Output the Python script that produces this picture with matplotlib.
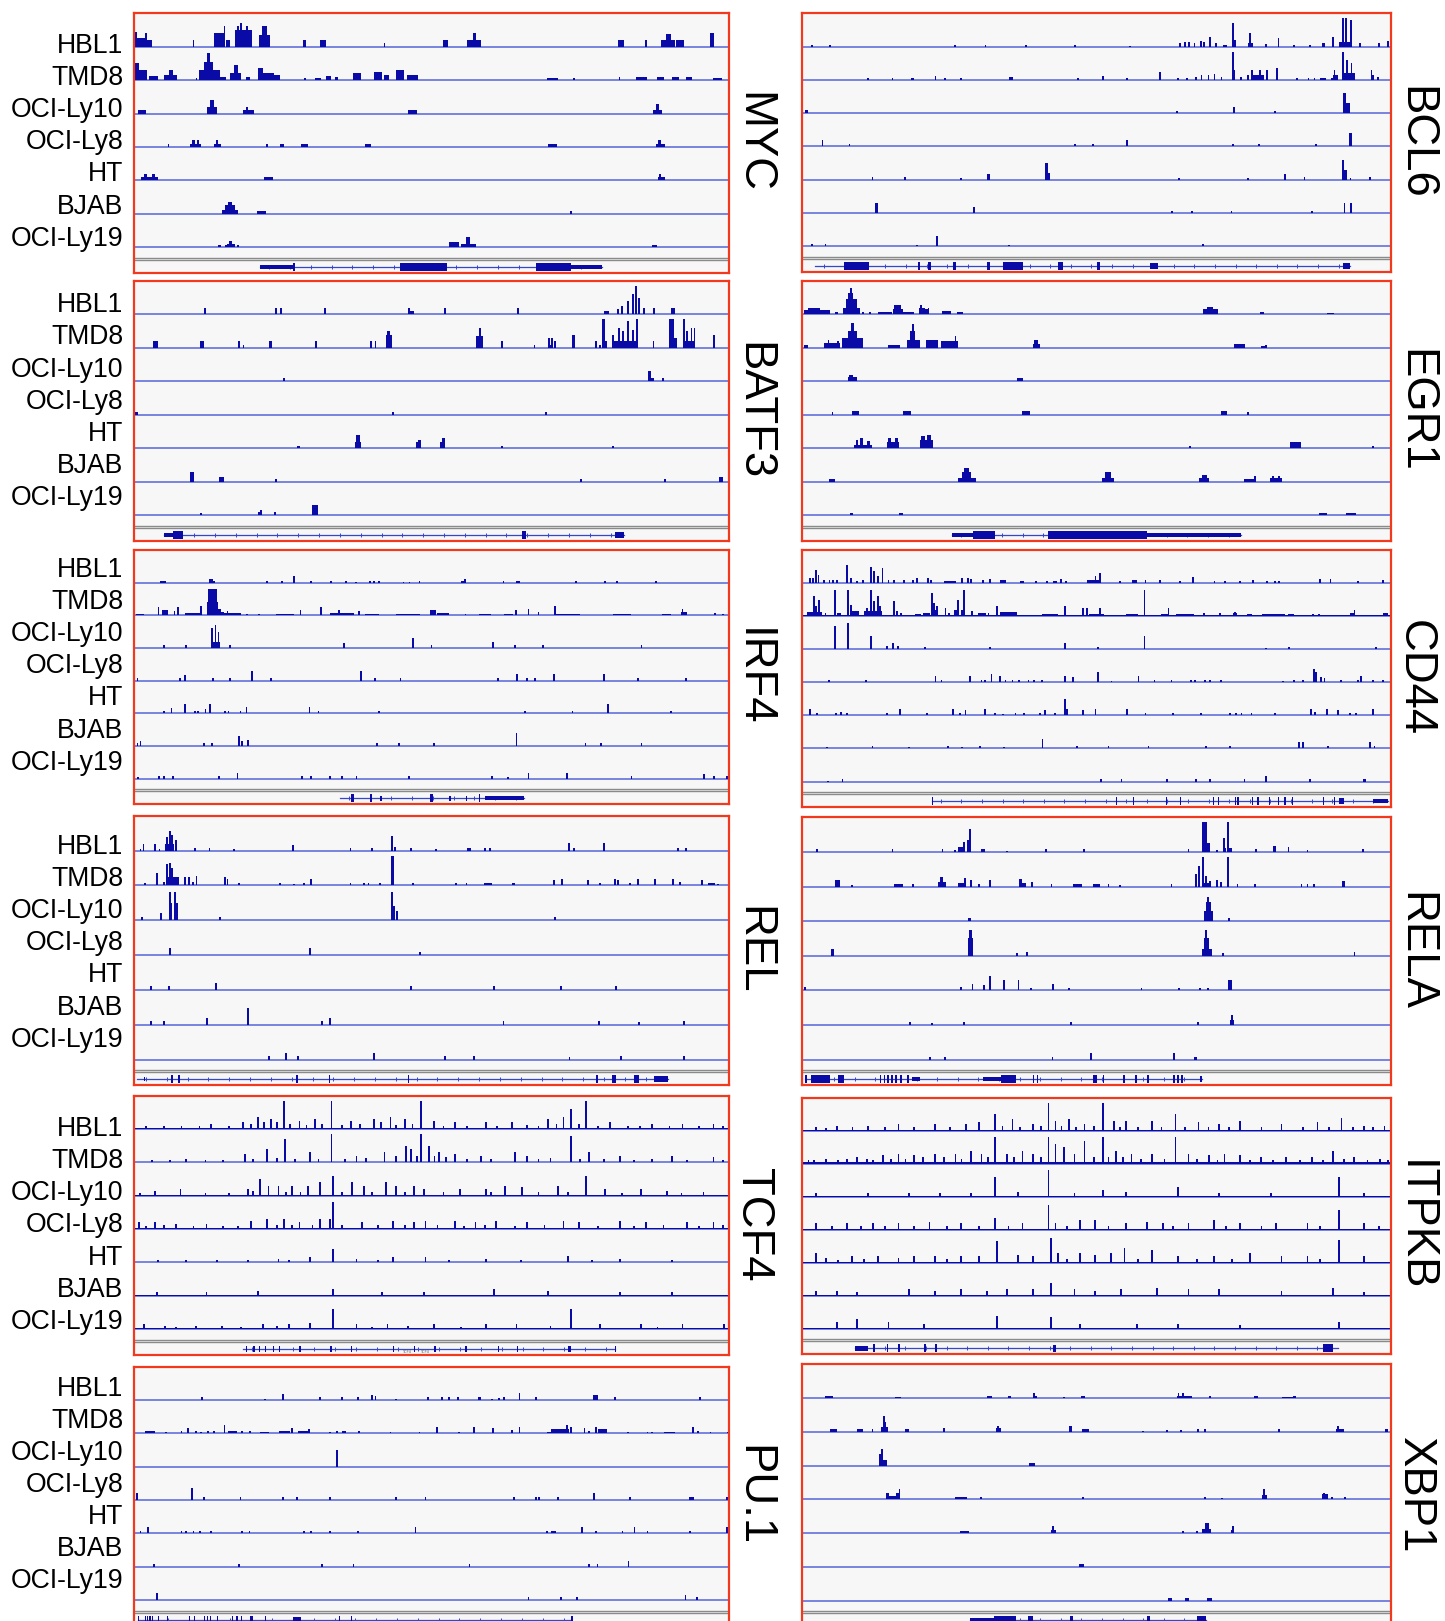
import matplotlib
matplotlib.use('Agg')
import matplotlib.pyplot as plt
import matplotlib.transforms as mtransforms
import numpy as np

W, H, DPI = 1445, 1621, 100

CELL_LINES = ['HBL1', 'TMD8', 'OCI-Ly10', 'OCI-Ly8', 'HT', 'BJAB', 'OCI-Ly19']
GENES_LEFT = ['MYC', 'BATF3', 'IRF4', 'REL', 'TCF4', 'PU.1']
GENES_RIGHT = ['BCL6', 'EGR1', 'CD44', 'RELA', 'ITPKB', 'XBP1']

# peaks per track: (position 0-1, height in track units, optional width)
MYC = [
    [(0.003, 0.45, 0.004), (0.012, 0.25, 0.02), (0.02, 0.4), (0.025, 0.2, 0.012), (0.100, 0.2),
     (0.144, 0.40, 0.018), (0.152, 0.62), (0.158, 0.2, 0.008), (0.184, 0.50, 0.028), (0.175, 0.62),
     (0.180, 0.72), (0.19, 0.62), (0.219, 0.35, 0.018), (0.219, 0.62, 0.008),
     (0.287, 0.2, 0.005), (0.317, 0.2, 0.01), (0.421, 0.1), (0.524, 0.2, 0.008), (0.571, 0.2, 0.024),
     (0.572, 0.4, 0.004), (0.818, 0.2, 0.01), (0.86, 0.2, 0.004), (0.897, 0.2, 0.024),
     (0.898, 0.38, 0.008), (0.918, 0.2, 0.013), (0.971, 0.4, 0.006)],
    [(0.005, 0.5, 0.008), (0.015, 0.3, 0.015), (0.032, 0.12, 0.015), (0.062, 0.15, 0.022),
     (0.062, 0.3, 0.008), (0.105, 0.05), (0.127, 0.3, 0.035), (0.125, 0.55, 0.015), (0.125, 0.8, 0.006),
     (0.150, 0.1, 0.01), (0.171, 0.2, 0.018), (0.171, 0.45, 0.006), (0.192, 0.1, 0.006),
     (0.213, 0.35, 0.008), (0.225, 0.2, 0.02), (0.240, 0.15, 0.012), (0.288, 0.05), (0.31, 0.07, 0.01),
     (0.327, 0.12, 0.008), (0.34, 0.08, 0.006), (0.375, 0.2, 0.014), (0.41, 0.25, 0.014),
     (0.425, 0.15, 0.008), (0.447, 0.3, 0.012), (0.468, 0.15, 0.02), (0.703, 0.07, 0.018),
     (0.74, 0.05, 0.004), (0.816, 0.1), (0.853, 0.08, 0.02), (0.885, 0.08, 0.012), (0.91, 0.08, 0.012),
     (0.932, 0.1, 0.01), (0.98, 0.06, 0.015)],
    [(0.013, 0.1, 0.014), (0.131, 0.2, 0.018), (0.131, 0.4, 0.008), (0.192, 0.12, 0.018),
     (0.19, 0.2, 0.004), (0.468, 0.1, 0.015), (0.88, 0.12, 0.016), (0.88, 0.3, 0.004)],
    [(0.058, 0.1), (0.103, 0.1, 0.018), (0.100, 0.2, 0.004), (0.108, 0.2, 0.004), (0.14, 0.1, 0.012),
     (0.14, 0.2, 0.004), (0.223, 0.08), (0.249, 0.08, 0.006), (0.286, 0.1, 0.012), (0.394, 0.1, 0.01),
     (0.703, 0.1, 0.016), (0.885, 0.1, 0.016), (0.884, 0.2, 0.005)],
    [(0.026, 0.1, 0.03), (0.019, 0.2, 0.005), (0.032, 0.2, 0.005), (0.226, 0.1, 0.014),
     (0.886, 0.1, 0.012), (0.884, 0.2, 0.004)],
    [(0.161, 0.12, 0.026), (0.161, 0.25, 0.016), (0.161, 0.35, 0.006), (0.214, 0.08, 0.016), (0.734, 0.08)],
    [(0.143, 0.08, 0.005), (0.154, 0.06), (0.163, 0.1, 0.014), (0.162, 0.2, 0.005), (0.175, 0.06),
     (0.538, 0.15, 0.016), (0.562, 0.1, 0.024), (0.561, 0.3, 0.006), (0.875, 0.08, 0.008)],
]

BCL6 = [
    [(0.016, 0.05), (0.047, 0.05), (0.259, 0.05), (0.311, 0.05), (0.380, 0.05), (0.463, 0.05), (0.556, 0.03),
     (0.641, 0.1), (0.65, 0.15), (0.657, 0.15), (0.666, 0.1), (0.677, 0.18), (0.682, 0.15), (0.693, 0.28),
     (0.702, 0.1), (0.718, 0.06, 0.008), (0.732, 0.7), (0.735, 0.2), (0.761, 0.1, 0.008), (0.761, 0.4),
     (0.787, 0.08), (0.809, 0.25), (0.835, 0.06), (0.862, 0.06), (0.885, 0.12, 0.005), (0.901, 0.3),
     (0.921, 0.15, 0.02), (0.919, 0.85), (0.924, 0.85), (0.932, 0.8), (0.947, 0.1), (0.979, 0.12), (0.995, 0.18)],
    [(0.111, 0.05), (0.153, 0.05), (0.187, 0.05, 0.006), (0.226, 0.13), (0.242, 0.05), (0.269, 0.05),
     (0.354, 0.1, 0.006), (0.468, 0.05), (0.51, 0.12), (0.552, 0.05), (0.608, 0.25), (0.638, 0.05),
     (0.654, 0.05), (0.668, 0.1), (0.678, 0.15), (0.69, 0.15), (0.7, 0.18), (0.712, 0.1), (0.731, 0.85),
     (0.733, 0.3), (0.745, 0.1), (0.757, 0.15), (0.775, 0.15, 0.02), (0.764, 0.3), (0.778, 0.3), (0.789, 0.3),
     (0.806, 0.35), (0.84, 0.05), (0.86, 0.05), (0.87, 0.06), (0.885, 0.07, 0.01), (0.9, 0.06), (0.904, 0.3),
     (0.906, 0.15, 0.008), (0.928, 0.2, 0.02), (0.918, 0.85), (0.925, 0.6), (0.933, 0.5), (0.967, 0.3),
     (0.97, 0.15), (0.978, 0.1)],
    [(0.007, 0.08, 0.005), (0.637, 0.06), (0.733, 0.18), (0.803, 0.06), (0.925, 0.3, 0.01), (0.921, 0.6, 0.006)],
    [(0.034, 0.2), (0.08, 0.08), (0.463, 0.06), (0.493, 0.08), (0.551, 0.2), (0.732, 0.08), (0.776, 0.08),
     (0.873, 0.08), (0.931, 0.4, 0.005)],
    [(0.119, 0.07), (0.174, 0.07), (0.269, 0.05), (0.316, 0.18, 0.006), (0.416, 0.2, 0.008), (0.415, 0.5, 0.005),
     (0.64, 0.06), (0.757, 0.06), (0.82, 0.18), (0.853, 0.07), (0.922, 0.3, 0.008), (0.919, 0.6),
     (0.931, 0.05), (0.964, 0.07)],
    [(0.126, 0.3, 0.005), (0.292, 0.18), (0.628, 0.05), (0.662, 0.07), (0.729, 0.07), (0.866, 0.05),
     (0.921, 0.3), (0.932, 0.3)],
    [(0.016, 0.08), (0.039, 0.07), (0.195, 0.05), (0.229, 0.3, 0.004), (0.351, 0.05), (0.68, 0.07)],
]

BATF3 = [
    [(0.119, 0.2), (0.239, 0.2), (0.247, 0.2), (0.321, 0.2, 0.004), (0.462, 0.2), (0.466, 0.1, 0.008),
     (0.523, 0.2), (0.645, 0.2), (0.794, 0.1, 0.008), (0.813, 0.15), (0.82, 0.25), (0.83, 0.4),
     (0.838, 0.6), (0.844, 0.85), (0.849, 0.5), (0.857, 0.2), (0.874, 0.2), (0.906, 0.2, 0.006)],
    [(0.036, 0.2, 0.009), (0.114, 0.2, 0.006), (0.176, 0.2), (0.184, 0.1), (0.229, 0.2, 0.005), (0.306, 0.2),
     (0.398, 0.2), (0.406, 0.2), (0.428, 0.4, 0.01), (0.428, 0.5, 0.004), (0.581, 0.35, 0.012),
     (0.582, 0.6, 0.004), (0.618, 0.2, 0.004), (0.673, 0.1), (0.7, 0.1, 0.01), (0.697, 0.3), (0.703, 0.3),
     (0.708, 0.2), (0.739, 0.4, 0.005), (0.776, 0.2), (0.783, 0.1), (0.789, 0.85, 0.005), (0.793, 0.2),
     (0.825, 0.2, 0.04), (0.805, 0.4), (0.815, 0.6), (0.822, 0.5), (0.83, 0.8), (0.838, 0.55),
     (0.845, 0.85), (0.873, 0.2), (0.908, 0.3, 0.01), (0.904, 0.85, 0.008), (0.932, 0.2, 0.02),
     (0.924, 0.85), (0.93, 0.5), (0.937, 0.6), (0.942, 0.6), (0.975, 0.4)],
    [(0.252, 0.1), (0.869, 0.1, 0.009), (0.867, 0.3, 0.005), (0.889, 0.1)],
    [(0.005, 0.08, 0.005), (0.435, 0.08, 0.004), (0.692, 0.08)],
    [(0.277, 0.08, 0.005), (0.376, 0.2, 0.01), (0.376, 0.4, 0.006), (0.478, 0.2, 0.008), (0.48, 0.25, 0.004),
     (0.519, 0.2, 0.008), (0.52, 0.3, 0.004), (0.619, 0.08), (0.805, 0.08)],
    [(0.001, 0.05), (0.097, 0.3, 0.006), (0.147, 0.15, 0.009), (0.239, 0.08, 0.004), (0.751, 0.08),
     (0.892, 0.08, 0.004), (0.986, 0.15, 0.007)],
    [(0.113, 0.08), (0.21, 0.1), (0.214, 0.15), (0.237, 0.1), (0.304, 0.3, 0.009)],
]

EGR1 = [
    [(0.025, 0.12, 0.045), (0.02, 0.18, 0.02), (0.058, 0.07, 0.006), (0.083, 0.2, 0.03), (0.083, 0.45, 0.018),
     (0.082, 0.65, 0.008), (0.083, 0.78), (0.103, 0.07), (0.115, 0.07), (0.14, 0.08, 0.025),
     (0.162, 0.15, 0.016), (0.162, 0.28, 0.012), (0.18, 0.08, 0.02), (0.203, 0.2, 0.01), (0.202, 0.28),
     (0.211, 0.15, 0.008), (0.214, 0.2), (0.245, 0.1, 0.016), (0.267, 0.08, 0.01), (0.693, 0.15, 0.025),
     (0.693, 0.22, 0.01), (0.781, 0.08, 0.008), (0.897, 0.04, 0.012)],
    [(0.006, 0.1, 0.008), (0.05, 0.15, 0.028), (0.044, 0.25), (0.06, 0.2), (0.069, 0.3),
     (0.087, 0.3, 0.033), (0.085, 0.5, 0.015), (0.085, 0.75, 0.004), (0.155, 0.1, 0.02),
     (0.188, 0.25, 0.022), (0.187, 0.5, 0.01), (0.188, 0.7), (0.22, 0.25, 0.02), (0.25, 0.2, 0.028),
     (0.26, 0.35), (0.397, 0.12, 0.012), (0.397, 0.25, 0.008), (0.743, 0.12, 0.018), (0.783, 0.05, 0.008),
     (0.788, 0.1)],
    [(0.085, 0.12, 0.016), (0.082, 0.2, 0.006), (0.37, 0.1, 0.011)],
    [(0.051, 0.08), (0.09, 0.1, 0.012), (0.178, 0.1, 0.013), (0.38, 0.1, 0.013), (0.716, 0.1, 0.01), (0.757, 0.08)],
    [(0.103, 0.1, 0.03), (0.093, 0.25, 0.004), (0.1, 0.3, 0.004), (0.112, 0.22, 0.004), (0.154, 0.2, 0.02),
     (0.148, 0.3, 0.004), (0.16, 0.3, 0.004), (0.21, 0.25, 0.022), (0.205, 0.38, 0.006), (0.215, 0.4, 0.006),
     (0.659, 0.08), (0.838, 0.2, 0.018), (0.969, 0.08)],
    [(0.05, 0.08, 0.011), (0.28, 0.12, 0.03), (0.279, 0.3, 0.016), (0.279, 0.4, 0.008), (0.519, 0.12, 0.02),
     (0.519, 0.3, 0.01), (0.683, 0.1, 0.017), (0.683, 0.2, 0.008), (0.76, 0.08, 0.02), (0.769, 0.18),
     (0.805, 0.1, 0.02), (0.8, 0.18, 0.004), (0.81, 0.18, 0.004)],
    [(0.083, 0.08, 0.006), (0.167, 0.08, 0.006), (0.885, 0.08, 0.013), (0.932, 0.08, 0.016)],
]

IRF4 = [
    [(0.049, 0.06, 0.01), (0.129, 0.12, 0.006), (0.135, 0.06), (0.224, 0.05), (0.249, 0.05), (0.269, 0.2),
     (0.298, 0.05), (0.331, 0.05), (0.356, 0.06), (0.373, 0.03), (0.396, 0.06), (0.404, 0.06), (0.412, 0.06),
     (0.453, 0.03), (0.463, 0.03), (0.48, 0.06), (0.552, 0.06, 0.006), (0.556, 0.12), (0.621, 0.05),
     (0.645, 0.06, 0.006), (0.743, 0.06), (0.792, 0.06), (0.812, 0.06), (0.877, 0.06)],
    [(0.5, 0.02, 1.0), (0.01, 0.04, 0.012), (0.041, 0.25), (0.052, 0.15, 0.01), (0.068, 0.12), (0.074, 0.25),
     (0.1, 0.08, 0.03), (0.113, 0.3), (0.132, 0.4, 0.02), (0.132, 0.8, 0.014), (0.143, 0.2, 0.005),
     (0.147, 0.1, 0.01), (0.165, 0.08, 0.03), (0.157, 0.12), (0.19, 0.05), (0.21, 0.04), (0.254, 0.05, 0.03),
     (0.28, 0.15), (0.314, 0.25), (0.35, 0.08, 0.04), (0.345, 0.15), (0.378, 0.12), (0.4, 0.05, 0.025),
     (0.46, 0.04, 0.04), (0.503, 0.15, 0.01), (0.52, 0.08, 0.02), (0.557, 0.05), (0.59, 0.05, 0.02),
     (0.63, 0.05, 0.015), (0.642, 0.15), (0.663, 0.2), (0.68, 0.1), (0.708, 0.3), (0.73, 0.04, 0.04),
     (0.82, 0.04, 0.03), (0.895, 0.04, 0.015), (0.925, 0.1, 0.01), (0.922, 0.2), (0.977, 0.06), (0.99, 0.04)],
    [(0.051, 0.08), (0.088, 0.08), (0.137, 0.2, 0.015), (0.131, 0.6), (0.137, 0.7), (0.142, 0.5),
     (0.162, 0.08), (0.353, 0.15), (0.469, 0.3), (0.5, 0.1), (0.604, 0.18), (0.64, 0.08), (0.688, 0.08),
     (0.853, 0.1)],
    [(0.006, 0.08), (0.077, 0.08), (0.086, 0.18), (0.133, 0.08, 0.004), (0.161, 0.08, 0.004), (0.198, 0.3),
     (0.23, 0.08), (0.382, 0.3), (0.405, 0.08), (0.448, 0.08), (0.612, 0.08), (0.644, 0.2), (0.661, 0.08),
     (0.674, 0.08), (0.706, 0.2), (0.79, 0.2), (0.847, 0.08), (0.928, 0.08)],
    [(0.051, 0.08), (0.063, 0.18), (0.086, 0.3), (0.102, 0.08), (0.108, 0.08), (0.12, 0.15), (0.128, 0.3),
     (0.153, 0.08), (0.159, 0.08), (0.179, 0.08), (0.189, 0.2), (0.295, 0.2), (0.31, 0.08), (0.412, 0.08),
     (0.657, 0.08), (0.737, 0.08), (0.797, 0.28), (0.903, 0.08)],
    [(0.006, 0.1), (0.011, 0.15), (0.117, 0.1), (0.131, 0.1), (0.177, 0.3), (0.182, 0.15), (0.192, 0.2),
     (0.409, 0.08), (0.445, 0.08), (0.504, 0.08), (0.643, 0.4), (0.759, 0.1), (0.785, 0.08), (0.853, 0.08)],
    [(0.007, 0.05), (0.042, 0.08), (0.051, 0.08), (0.066, 0.08), (0.143, 0.08), (0.174, 0.18), (0.283, 0.08),
     (0.298, 0.08), (0.329, 0.08), (0.349, 0.08), (0.374, 0.08), (0.462, 0.08), (0.602, 0.08), (0.628, 0.06),
     (0.663, 0.18), (0.728, 0.18), (0.836, 0.1), (0.958, 0.15), (0.975, 0.08), (0.996, 0.08)],
]

CD44 = [
    [(0.013, 0.15), (0.018, 0.15), (0.023, 0.4), (0.027, 0.25), (0.036, 0.1), (0.046, 0.1), (0.052, 0.1),
     (0.059, 0.08), (0.076, 0.55), (0.082, 0.15), (0.092, 0.05), (0.103, 0.08), (0.117, 0.5), (0.121, 0.35),
     (0.128, 0.2), (0.136, 0.45), (0.146, 0.1), (0.156, 0.08), (0.172, 0.08), (0.188, 0.1), (0.195, 0.15),
     (0.213, 0.15), (0.219, 0.1), (0.25, 0.06, 0.02), (0.271, 0.15), (0.281, 0.15), (0.286, 0.12),
     (0.307, 0.1), (0.318, 0.12), (0.34, 0.1, 0.01), (0.373, 0.06, 0.006), (0.397, 0.06), (0.416, 0.06),
     (0.429, 0.06, 0.008), (0.439, 0.12), (0.448, 0.06), (0.493, 0.08, 0.02), (0.498, 0.2), (0.505, 0.3),
     (0.54, 0.06), (0.564, 0.08, 0.008), (0.583, 0.08), (0.608, 0.08, 0.004), (0.641, 0.06), (0.664, 0.18),
     (0.7, 0.06), (0.718, 0.06), (0.743, 0.06), (0.766, 0.08), (0.789, 0.06), (0.803, 0.06), (0.81, 0.06),
     (0.88, 0.12), (0.897, 0.12), (0.944, 0.06), (0.986, 0.08)],
    [(0.5, 0.02, 1.0), (0.011, 0.1), (0.019, 0.6), (0.023, 0.3), (0.028, 0.5), (0.02, 0.12, 0.025),
     (0.039, 0.08), (0.055, 0.8), (0.06, 0.1), (0.064, 0.08), (0.077, 0.8), (0.082, 0.35), (0.09, 0.15, 0.012),
     (0.11, 0.25), (0.117, 0.8), (0.121, 0.45), (0.128, 0.6), (0.132, 0.3), (0.12, 0.15, 0.03), (0.156, 0.45),
     (0.16, 0.15), (0.167, 0.1), (0.197, 0.06, 0.01), (0.21, 0.08, 0.012), (0.22, 0.7), (0.224, 0.4),
     (0.228, 0.3), (0.225, 0.2, 0.012), (0.243, 0.25), (0.249, 0.1), (0.262, 0.2, 0.008), (0.264, 0.5),
     (0.274, 0.8), (0.273, 0.2, 0.006), (0.288, 0.15), (0.305, 0.08, 0.012), (0.316, 0.1), (0.33, 0.3),
     (0.35, 0.12, 0.03), (0.417, 0.06, 0.02), (0.425, 0.06, 0.02), (0.446, 0.3), (0.476, 0.25), (0.484, 0.25),
     (0.5, 0.06, 0.025), (0.505, 0.25), (0.56, 0.06, 0.02), (0.581, 0.8), (0.616, 0.06, 0.012), (0.622, 0.25),
     (0.65, 0.06, 0.03), (0.682, 0.1), (0.71, 0.08), (0.735, 0.12), (0.735, 0.08, 0.008), (0.76, 0.06, 0.008),
     (0.8, 0.06, 0.04), (0.83, 0.05, 0.01), (0.867, 0.05), (0.878, 0.05), (0.938, 0.2), (0.934, 0.1, 0.006),
     (0.991, 0.08, 0.008)],
    [(0.055, 0.7), (0.077, 0.8), (0.117, 0.4), (0.144, 0.1), (0.154, 0.18), (0.162, 0.1), (0.208, 0.08),
     (0.318, 0.08), (0.446, 0.18), (0.502, 0.08), (0.581, 0.4), (0.787, 0.03), (0.827, 0.08), (0.974, 0.08)],
    [(0.045, 0.08), (0.108, 0.08, 0.004), (0.226, 0.18), (0.236, 0.08), (0.284, 0.18), (0.304, 0.08),
     (0.31, 0.08), (0.321, 0.25), (0.336, 0.18), (0.345, 0.08), (0.357, 0.08), (0.368, 0.08), (0.384, 0.08),
     (0.394, 0.08), (0.407, 0.08), (0.446, 0.2), (0.46, 0.15), (0.502, 0.3), (0.525, 0.05), (0.571, 0.2),
     (0.598, 0.08), (0.627, 0.08), (0.66, 0.08), (0.667, 0.08), (0.684, 0.08), (0.693, 0.08), (0.711, 0.08),
     (0.816, 0.05), (0.835, 0.08), (0.85, 0.08), (0.869, 0.4), (0.873, 0.3), (0.881, 0.15), (0.887, 0.12),
     (0.915, 0.08), (0.944, 0.08), (0.949, 0.18), (0.97, 0.08), (0.986, 0.08)],
    [(0.013, 0.18), (0.025, 0.08), (0.057, 0.08), (0.066, 0.1), (0.076, 0.08), (0.144, 0.08), (0.166, 0.2),
     (0.212, 0.08), (0.256, 0.2), (0.267, 0.08), (0.277, 0.15), (0.31, 0.2), (0.327, 0.08), (0.341, 0.05),
     (0.362, 0.08), (0.377, 0.08), (0.404, 0.08), (0.412, 0.15), (0.429, 0.08), (0.446, 0.5), (0.449, 0.2),
     (0.476, 0.15), (0.498, 0.2), (0.551, 0.2), (0.583, 0.08), (0.63, 0.08), (0.677, 0.08), (0.726, 0.08),
     (0.736, 0.08), (0.746, 0.08), (0.763, 0.08), (0.803, 0.08), (0.864, 0.2), (0.871, 0.1), (0.891, 0.2),
     (0.91, 0.15), (0.93, 0.08), (0.94, 0.08), (0.97, 0.2)],
    [(0.041, 0.05), (0.119, 0.08), (0.181, 0.03), (0.247, 0.08), (0.271, 0.03), (0.302, 0.08), (0.343, 0.05),
     (0.408, 0.3), (0.466, 0.08), (0.52, 0.08), (0.588, 0.08), (0.686, 0.08, 0.004), (0.726, 0.08, 0.004),
     (0.844, 0.18), (0.85, 0.18), (0.893, 0.08), (0.964, 0.18), (0.972, 0.08)],
    [(0.043, 0.03), (0.068, 0.08), (0.507, 0.08), (0.542, 0.08), (0.62, 0.08), (0.669, 0.08), (0.692, 0.08),
     (0.751, 0.08), (0.787, 0.18), (0.862, 0.08), (0.955, 0.08, 0.004)],
]

REL = [
    [(0.011, 0.05), (0.016, 0.18), (0.035, 0.18), (0.043, 0.05), (0.06, 0.2, 0.016), (0.056, 0.4),
     (0.06, 0.55), (0.064, 0.45), (0.071, 0.3), (0.102, 0.08), (0.127, 0.08), (0.168, 0.05),
     (0.267, 0.15, 0.004), (0.364, 0.08), (0.4, 0.08), (0.434, 0.42), (0.439, 0.1), (0.465, 0.08),
     (0.507, 0.03), (0.563, 0.08, 0.006), (0.59, 0.08), (0.598, 0.08), (0.731, 0.22), (0.739, 0.08),
     (0.79, 0.22), (0.914, 0.08), (0.928, 0.08)],
    [(0.018, 0.08), (0.039, 0.35), (0.05, 0.1), (0.063, 0.25, 0.02), (0.055, 0.6), (0.06, 0.65), (0.064, 0.5),
     (0.074, 0.25), (0.086, 0.25), (0.092, 0.25), (0.099, 0.1), (0.105, 0.28), (0.153, 0.25), (0.157, 0.18),
     (0.176, 0.08), (0.246, 0.08), (0.269, 0.05), (0.286, 0.08), (0.297, 0.18), (0.364, 0.08), (0.387, 0.08),
     (0.394, 0.08), (0.414, 0.08), (0.434, 0.85), (0.436, 0.85), (0.469, 0.08), (0.541, 0.08), (0.559, 0.08),
     (0.595, 0.08, 0.012), (0.637, 0.08, 0.005), (0.706, 0.15), (0.719, 0.18), (0.763, 0.15, 0.004),
     (0.783, 0.08), (0.808, 0.18), (0.814, 0.15), (0.833, 0.08), (0.847, 0.18), (0.875, 0.18), (0.906, 0.18),
     (0.918, 0.1), (0.954, 0.15), (0.97, 0.08, 0.012), (0.981, 0.05)],
    [(0.014, 0.1), (0.045, 0.2), (0.06, 0.82), (0.063, 0.5), (0.069, 0.82), (0.072, 0.5), (0.144, 0.1),
     (0.434, 0.82), (0.437, 0.4), (0.442, 0.25), (0.708, 0.1)],
    [(0.061, 0.2), (0.296, 0.2), (0.481, 0.1)],
    [(0.029, 0.1, 0.004), (0.059, 0.1), (0.138, 0.2), (0.465, 0.1), (0.605, 0.1), (0.718, 0.1), (0.81, 0.1)],
    [(0.029, 0.1), (0.051, 0.1), (0.123, 0.2), (0.192, 0.48, 0.004), (0.316, 0.1), (0.33, 0.18), (0.621, 0.1),
     (0.782, 0.1), (0.849, 0.08), (0.924, 0.1)],
    [(0.227, 0.1), (0.256, 0.18), (0.275, 0.1), (0.403, 0.2), (0.523, 0.1), (0.571, 0.1), (0.732, 0.08),
     (0.819, 0.1), (0.924, 0.1)],
]

RELA = [
    [(0.024, 0.08), (0.153, 0.08), (0.238, 0.08), (0.259, 0.05), (0.27, 0.15, 0.01), (0.274, 0.3), (0.281, 0.35),
     (0.284, 0.65), (0.307, 0.08, 0.006), (0.348, 0.03), (0.414, 0.08), (0.478, 0.08), (0.656, 0.08),
     (0.683, 0.85, 0.01), (0.69, 0.25, 0.006), (0.704, 0.05), (0.716, 0.4), (0.718, 0.1), (0.725, 0.12, 0.008),
     (0.723, 0.85, 0.004), (0.771, 0.08), (0.802, 0.18, 0.005), (0.826, 0.15), (0.858, 0.06), (0.952, 0.08)],
    [(0.059, 0.18, 0.008), (0.084, 0.05), (0.163, 0.08, 0.014), (0.188, 0.08), (0.237, 0.12, 0.013),
     (0.236, 0.28, 0.004), (0.27, 0.1, 0.012), (0.276, 0.25), (0.286, 0.2), (0.3, 0.08), (0.318, 0.18),
     (0.375, 0.1, 0.008), (0.371, 0.22, 0.005), (0.39, 0.12), (0.423, 0.08), (0.467, 0.06, 0.016),
     (0.5, 0.06, 0.012), (0.52, 0.06), (0.54, 0.03), (0.627, 0.08), (0.686, 0.1, 0.012), (0.668, 0.35),
     (0.674, 0.6), (0.681, 0.85), (0.686, 0.3), (0.693, 0.15), (0.704, 0.18), (0.711, 0.12), (0.723, 0.85),
     (0.739, 0.08), (0.769, 0.08), (0.848, 0.08), (0.858, 0.08), (0.869, 0.08), (0.919, 0.15, 0.006)],
    [(0.283, 0.1, 0.005), (0.69, 0.3, 0.014), (0.69, 0.55, 0.008), (0.689, 0.7), (0.725, 0.1, 0.004)],
    [(0.051, 0.2, 0.005), (0.285, 0.5, 0.009), (0.285, 0.75, 0.005), (0.364, 0.08), (0.381, 0.1, 0.004),
     (0.687, 0.2, 0.018), (0.686, 0.5, 0.009), (0.686, 0.75, 0.004), (0.714, 0.08), (0.938, 0.1)],
    [(0.004, 0.1), (0.269, 0.1), (0.289, 0.18), (0.309, 0.15), (0.318, 0.3), (0.318, 0.4), (0.343, 0.3),
     (0.367, 0.3), (0.388, 0.08), (0.426, 0.18), (0.453, 0.08), (0.576, 0.08), (0.64, 0.08), (0.675, 0.08),
     (0.689, 0.08), (0.726, 0.3, 0.007)],
    [(0.183, 0.08), (0.22, 0.05), (0.274, 0.08), (0.456, 0.08), (0.672, 0.08), (0.73, 0.15, 0.008), (0.73, 0.3)],
    [(0.217, 0.08), (0.242, 0.08), (0.425, 0.08), (0.49, 0.2), (0.631, 0.2), (0.668, 0.08, 0.005)],
]

TCF4 = [
    [(0.5, 0.03, 1.0), (0.13, 0.15), (0.183, 0.2), (0.209, 0.35), (0.23, 0.3), (0.252, 0.85), (0.278, 0.25),
     (0.304, 0.3), (0.332, 0.85), (0.365, 0.25), (0.403, 0.3), (0.431, 0.35), (0.456, 0.3), (0.483, 0.85),
     (0.504, 0.25), (0.539, 0.2), (0.591, 0.2), (0.635, 0.2), (0.696, 0.3), (0.722, 0.35), (0.734, 0.6),
     (0.76, 0.85), (0.8, 0.2), (0.87, 0.15), (0.922, 0.15), (0.974, 0.15),
     (0.02, 0.08), (0.05, 0.1), (0.08, 0.08), (0.11, 0.1), (0.16, 0.1), (0.196, 0.15), (0.218, 0.2),
     (0.24, 0.2), (0.262, 0.15), (0.29, 0.12), (0.316, 0.15), (0.35, 0.12), (0.38, 0.15), (0.415, 0.2),
     (0.44, 0.12), (0.468, 0.15), (0.52, 0.1), (0.56, 0.1), (0.61, 0.1), (0.66, 0.12), (0.68, 0.1),
     (0.71, 0.15), (0.748, 0.15), (0.78, 0.1), (0.83, 0.1), (0.85, 0.08), (0.9, 0.1), (0.95, 0.08), (0.99, 0.1)],
    [(0.5, 0.025, 1.0), (0.087, 0.1), (0.186, 0.25), (0.223, 0.4), (0.254, 0.7), (0.296, 0.3), (0.332, 0.85),
     (0.374, 0.2), (0.421, 0.3), (0.457, 0.5), (0.466, 0.4), (0.483, 0.85), (0.496, 0.5), (0.513, 0.3),
     (0.539, 0.25), (0.583, 0.2), (0.64, 0.3), (0.661, 0.2), (0.734, 0.8), (0.765, 0.3), (0.817, 0.2),
     (0.904, 0.2), (0.974, 0.15),
     (0.03, 0.06), (0.06, 0.08), (0.12, 0.06), (0.15, 0.08), (0.2, 0.1), (0.24, 0.12), (0.27, 0.1),
     (0.31, 0.1), (0.355, 0.1), (0.39, 0.12), (0.44, 0.2), (0.475, 0.2), (0.505, 0.2), (0.525, 0.15),
     (0.56, 0.1), (0.6, 0.1), (0.68, 0.1), (0.7, 0.12), (0.75, 0.1), (0.79, 0.1), (0.84, 0.08), (0.87, 0.1),
     (0.93, 0.08), (0.99, 0.08)],
    [(0.5, 0.02, 1.0), (0.035, 0.15), (0.078, 0.2), (0.191, 0.2), (0.212, 0.5), (0.226, 0.3), (0.243, 0.3),
     (0.266, 0.3), (0.292, 0.3), (0.313, 0.4), (0.334, 0.6), (0.367, 0.4), (0.386, 0.3), (0.423, 0.4),
     (0.44, 0.3), (0.47, 0.3), (0.487, 0.2), (0.548, 0.2), (0.591, 0.2), (0.623, 0.3), (0.652, 0.25),
     (0.713, 0.3), (0.76, 0.6), (0.791, 0.2), (0.852, 0.2), (0.896, 0.15), (0.957, 0.1),
     (0.01, 0.08), (0.12, 0.08), (0.16, 0.08), (0.2, 0.15), (0.255, 0.1), (0.28, 0.12), (0.35, 0.12),
     (0.4, 0.1), (0.455, 0.1), (0.52, 0.1), (0.6, 0.1), (0.68, 0.1), (0.73, 0.1), (0.82, 0.08), (0.92, 0.08)],
    [(0.5, 0.035, 1.0), (0.009, 0.2), (0.035, 0.2), (0.07, 0.15), (0.122, 0.15), (0.197, 0.25), (0.223, 0.3),
     (0.252, 0.3), (0.278, 0.2), (0.313, 0.3), (0.334, 0.8), (0.33, 0.3), (0.383, 0.2), (0.435, 0.25),
     (0.47, 0.2), (0.49, 0.25), (0.539, 0.25), (0.574, 0.2), (0.609, 0.25), (0.661, 0.2), (0.722, 0.25),
     (0.748, 0.2), (0.817, 0.25), (0.861, 0.2), (0.93, 0.2), (0.974, 0.2),
     (0.02, 0.1), (0.05, 0.12), (0.1, 0.1), (0.15, 0.1), (0.175, 0.1), (0.24, 0.12), (0.265, 0.12),
     (0.3, 0.12), (0.35, 0.12), (0.41, 0.12), (0.455, 0.12), (0.51, 0.12), (0.555, 0.1), (0.59, 0.12),
     (0.64, 0.1), (0.69, 0.12), (0.78, 0.1), (0.84, 0.1), (0.89, 0.12), (0.95, 0.1), (0.99, 0.12)],
    [(0.5, 0.02, 1.0), (0.087, 0.08), (0.191, 0.08), (0.243, 0.1), (0.296, 0.15), (0.334, 0.4), (0.374, 0.1),
     (0.435, 0.15), (0.49, 0.15), (0.591, 0.1), (0.73, 0.2), (0.817, 0.1), (0.904, 0.08),
     (0.04, 0.06), (0.14, 0.06), (0.26, 0.08), (0.41, 0.08), (0.53, 0.08), (0.65, 0.08), (0.77, 0.06)],
    [(0.5, 0.015, 1.0), (0.038, 0.1), (0.122, 0.1), (0.209, 0.15), (0.334, 0.2), (0.417, 0.1), (0.487, 0.1),
     (0.605, 0.2), (0.696, 0.15), (0.817, 0.1), (0.904, 0.1)],
    [(0.5, 0.025, 1.0), (0.017, 0.15), (0.052, 0.1), (0.104, 0.1), (0.148, 0.1), (0.217, 0.15), (0.261, 0.15),
     (0.296, 0.2), (0.334, 0.6), (0.374, 0.15), (0.426, 0.15), (0.504, 0.15), (0.591, 0.15), (0.643, 0.15),
     (0.734, 0.6), (0.783, 0.15), (0.852, 0.15), (0.922, 0.15), (0.991, 0.15),
     (0.07, 0.08), (0.18, 0.08), (0.24, 0.1), (0.4, 0.08), (0.46, 0.1), (0.55, 0.08), (0.7, 0.1), (0.88, 0.08)],
]

ITPKB = [
    [(0.5, 0.03, 1.0), (0.023, 0.1), (0.058, 0.15), (0.111, 0.15), (0.163, 0.2), (0.225, 0.2), (0.278, 0.2),
     (0.3, 0.25), (0.327, 0.5), (0.357, 0.35), (0.392, 0.2), (0.418, 0.85), (0.43, 0.3), (0.453, 0.35),
     (0.479, 0.2), (0.511, 0.85), (0.529, 0.3), (0.55, 0.3), (0.594, 0.3), (0.634, 0.5), (0.673, 0.25),
     (0.708, 0.2), (0.743, 0.3), (0.814, 0.2), (0.875, 0.25), (0.916, 0.4), (0.954, 0.15), (0.989, 0.15),
     (0.04, 0.08), (0.085, 0.1), (0.14, 0.1), (0.19, 0.1), (0.25, 0.12), (0.34, 0.15), (0.37, 0.12),
     (0.405, 0.15), (0.44, 0.15), (0.465, 0.12), (0.495, 0.15), (0.54, 0.12), (0.57, 0.12), (0.61, 0.12),
     (0.65, 0.12), (0.69, 0.1), (0.725, 0.1), (0.78, 0.1), (0.85, 0.1), (0.895, 0.1), (0.935, 0.1), (0.97, 0.1)],
    [(0.5, 0.05, 1.0), (0.04, 0.15), (0.093, 0.2), (0.137, 0.25), (0.163, 0.3), (0.19, 0.25), (0.225, 0.3),
     (0.26, 0.3), (0.286, 0.4), (0.304, 0.3), (0.327, 0.8), (0.348, 0.3), (0.374, 0.4), (0.392, 0.3),
     (0.418, 0.8), (0.43, 0.6), (0.445, 0.5), (0.462, 0.3), (0.479, 0.7), (0.511, 0.8), (0.533, 0.4),
     (0.559, 0.3), (0.594, 0.3), (0.634, 0.8), (0.656, 0.3), (0.691, 0.25), (0.717, 0.3), (0.743, 0.25),
     (0.779, 0.2), (0.822, 0.2), (0.866, 0.2), (0.902, 0.4), (0.937, 0.2), (0.981, 0.15),
     (0.01, 0.12), (0.02, 0.1), (0.06, 0.12), (0.075, 0.15), (0.11, 0.15), (0.12, 0.12), (0.15, 0.15),
     (0.175, 0.15), (0.205, 0.2), (0.24, 0.2), (0.27, 0.15), (0.315, 0.2), (0.36, 0.2), (0.405, 0.2),
     (0.495, 0.2), (0.52, 0.2), (0.545, 0.2), (0.575, 0.15), (0.615, 0.15), (0.67, 0.15), (0.705, 0.12),
     (0.76, 0.12), (0.8, 0.12), (0.845, 0.12), (0.885, 0.12), (0.92, 0.15), (0.96, 0.12), (0.995, 0.1)],
    [(0.5, 0.015, 1.0), (0.023, 0.1), (0.111, 0.1), (0.181, 0.1), (0.234, 0.1), (0.286, 0.1), (0.327, 0.6),
     (0.366, 0.15), (0.418, 0.8), (0.462, 0.1), (0.511, 0.2), (0.55, 0.15), (0.638, 0.3), (0.708, 0.1),
     (0.796, 0.1), (0.912, 0.6), (0.954, 0.1)],
    [(0.5, 0.03, 1.0), (0.023, 0.2), (0.076, 0.2), (0.12, 0.2), (0.163, 0.2), (0.216, 0.25), (0.269, 0.2),
     (0.327, 0.35), (0.374, 0.2), (0.418, 0.75), (0.43, 0.2), (0.471, 0.3), (0.497, 0.3), (0.55, 0.2),
     (0.585, 0.25), (0.612, 0.2), (0.656, 0.2), (0.699, 0.3), (0.743, 0.2), (0.805, 0.2), (0.858, 0.2),
     (0.912, 0.6), (0.954, 0.2),
     (0.05, 0.1), (0.1, 0.1), (0.14, 0.12), (0.19, 0.1), (0.245, 0.1), (0.3, 0.12), (0.35, 0.1), (0.45, 0.12),
     (0.52, 0.12), (0.63, 0.1), (0.72, 0.1), (0.78, 0.1), (0.88, 0.1), (0.98, 0.1)],
    [(0.5, 0.02, 1.0), (0.023, 0.3), (0.04, 0.15), (0.084, 0.2), (0.128, 0.2), (0.163, 0.15), (0.19, 0.2),
     (0.225, 0.2), (0.269, 0.2), (0.3, 0.2), (0.33, 0.65), (0.366, 0.25), (0.392, 0.2), (0.422, 0.75),
     (0.434, 0.3), (0.471, 0.3), (0.497, 0.25), (0.524, 0.3), (0.547, 0.45), (0.594, 0.4), (0.638, 0.2),
     (0.699, 0.2), (0.761, 0.3), (0.814, 0.2), (0.858, 0.2), (0.912, 0.7), (0.954, 0.2),
     (0.06, 0.08), (0.105, 0.1), (0.245, 0.1), (0.45, 0.1), (0.57, 0.1), (0.67, 0.1), (0.73, 0.1), (0.88, 0.1)],
    [(0.5, 0.02, 1.0), (0.023, 0.15), (0.058, 0.15), (0.093, 0.1), (0.181, 0.2), (0.225, 0.15), (0.269, 0.2),
     (0.313, 0.15), (0.348, 0.2), (0.392, 0.2), (0.422, 0.4), (0.462, 0.2), (0.497, 0.15), (0.541, 0.2),
     (0.603, 0.25), (0.656, 0.2), (0.708, 0.2), (0.814, 0.15), (0.902, 0.25), (0.954, 0.1)],
    [(0.5, 0.01, 1.0), (0.058, 0.2), (0.093, 0.3), (0.146, 0.2), (0.207, 0.15), (0.33, 0.4), (0.422, 0.35),
     (0.471, 0.15), (0.568, 0.15), (0.638, 0.15), (0.743, 0.1), (0.912, 0.2)],
]

PU1 = [
    [(0.114, 0.08), (0.22, 0.03), (0.25, 0.18), (0.313, 0.08), (0.35, 0.08), (0.376, 0.08), (0.4, 0.15),
     (0.406, 0.12), (0.44, 0.03), (0.494, 0.08), (0.517, 0.08), (0.53, 0.08), (0.544, 0.08),
     (0.581, 0.08, 0.006), (0.602, 0.03), (0.614, 0.05), (0.622, 0.1), (0.648, 0.2), (0.675, 0.08),
     (0.776, 0.15, 0.009), (0.808, 0.08), (0.951, 0.08)],
    [(0.027, 0.08, 0.016), (0.054, 0.03), (0.08, 0.08), (0.091, 0.15), (0.104, 0.08), (0.112, 0.05),
     (0.125, 0.08), (0.135, 0.08), (0.152, 0.25), (0.166, 0.08, 0.015), (0.181, 0.08), (0.195, 0.08),
     (0.22, 0.05, 0.015), (0.253, 0.08, 0.02), (0.265, 0.15), (0.285, 0.08, 0.02), (0.294, 0.12),
     (0.329, 0.05), (0.341, 0.08), (0.353, 0.08, 0.008), (0.378, 0.08), (0.431, 0.05), (0.48, 0.05),
     (0.509, 0.2), (0.546, 0.05), (0.571, 0.18), (0.603, 0.15), (0.635, 0.1), (0.648, 0.18),
     (0.699, 0.05, 0.01), (0.716, 0.12, 0.03), (0.728, 0.25), (0.735, 0.2), (0.757, 0.15), (0.765, 0.08),
     (0.788, 0.12, 0.015), (0.777, 0.18), (0.83, 0.05), (0.863, 0.05), (0.871, 0.05), (0.9, 0.05, 0.02),
     (0.94, 0.18), (0.948, 0.08), (0.969, 0.05), (0.998, 0.05)],
    [(0.341, 0.5)],
    [(0.005, 0.2), (0.097, 0.35), (0.117, 0.1), (0.179, 0.08), (0.251, 0.08), (0.274, 0.08), (0.33, 0.08),
     (0.44, 0.08), (0.49, 0.08), (0.639, 0.08), (0.675, 0.08), (0.681, 0.08), (0.712, 0.08), (0.773, 0.2),
     (0.833, 0.08), (0.937, 0.08, 0.008), (0.996, 0.1)],
    [(0.011, 0.08), (0.024, 0.18), (0.08, 0.08), (0.088, 0.08), (0.1, 0.08), (0.111, 0.08), (0.13, 0.08),
     (0.182, 0.08), (0.194, 0.08), (0.286, 0.08), (0.298, 0.08), (0.33, 0.08), (0.376, 0.08), (0.473, 0.18),
     (0.694, 0.08), (0.705, 0.08, 0.008), (0.753, 0.18), (0.776, 0.08), (0.821, 0.08), (0.841, 0.18),
     (0.863, 0.08), (0.935, 0.08), (0.996, 0.2)],
    [(0.034, 0.08), (0.176, 0.08), (0.316, 0.08), (0.369, 0.08), (0.564, 0.08), (0.765, 0.08), (0.779, 0.08),
     (0.831, 0.18)],
    [(0.038, 0.2), (0.663, 0.08), (0.718, 0.08), (0.745, 0.08), (0.927, 0.15), (0.946, 0.08)],
]

XBP1 = [
    [(0.045, 0.07, 0.012), (0.163, 0.03, 0.01), (0.318, 0.07, 0.009), (0.352, 0.07, 0.005), (0.395, 0.07, 0.006),
     (0.394, 0.15), (0.444, 0.03), (0.477, 0.07, 0.006), (0.649, 0.07, 0.025), (0.639, 0.15), (0.646, 0.15),
     (0.692, 0.05), (0.77, 0.07, 0.007), (0.825, 0.03, 0.02), (0.836, 0.07, 0.006), (0.999, 0.07)],
    [(0.052, 0.07, 0.012), (0.098, 0.07, 0.01), (0.119, 0.07), (0.139, 0.15, 0.012), (0.139, 0.3, 0.006),
     (0.138, 0.48), (0.178, 0.07, 0.007), (0.24, 0.12), (0.333, 0.1, 0.009), (0.332, 0.18),
     (0.455, 0.18, 0.006), (0.481, 0.07, 0.012), (0.579, 0.03), (0.62, 0.05), (0.643, 0.05), (0.672, 0.07),
     (0.684, 0.07), (0.81, 0.07), (0.913, 0.08, 0.013), (0.91, 0.18), (0.992, 0.07, 0.006)],
    [(0.137, 0.15, 0.014), (0.133, 0.35, 0.006), (0.135, 0.5), (0.142, 0.08), (0.39, 0.08, 0.01)],
    [(0.155, 0.1, 0.02), (0.145, 0.18, 0.005), (0.162, 0.18, 0.005), (0.165, 0.3), (0.269, 0.08, 0.02),
     (0.303, 0.08), (0.476, 0.08), (0.684, 0.08), (0.713, 0.05), (0.785, 0.12, 0.01), (0.784, 0.3, 0.004),
     (0.888, 0.15, 0.01), (0.886, 0.2, 0.004), (0.9, 0.08), (0.922, 0.08)],
    [(0.275, 0.07, 0.015), (0.426, 0.1, 0.008), (0.426, 0.2, 0.004), (0.647, 0.07), (0.67, 0.07),
     (0.687, 0.12, 0.015), (0.687, 0.3, 0.006), (0.731, 0.1, 0.006), (0.731, 0.2)],
    [(0.474, 0.08, 0.009)],
    [(0.625, 0.08, 0.007), (0.653, 0.08, 0.007), (0.692, 0.08, 0.009)],
]

# gene models: span of the intron line and exons (start, end, relative thickness)
GENE_MODELS = {
    'MYC': ((0.212, 0.787), [(0.212, 0.27, 0.55), (0.268, 0.271, 1.0), (0.447, 0.526, 1.0),
                             (0.675, 0.735, 1.0), (0.735, 0.787, 0.55)]),
    'BCL6': ((0.021, 0.931), [(0.07, 0.113, 1.0), (0.196, 0.2, 1.0), (0.214, 0.218, 1.0), (0.256, 0.26, 1.0),
                              (0.313, 0.318, 1.0), (0.341, 0.375, 1.0), (0.435, 0.442, 1.0), (0.501, 0.505, 1.0),
                              (0.59, 0.604, 0.8), (0.919, 0.93, 0.8)]),
    'BATF3': ((0.051, 0.824), [(0.051, 0.066, 0.55), (0.066, 0.082, 1.0), (0.652, 0.659, 1.0),
                               (0.809, 0.824, 0.8)]),
    'EGR1': ((0.254, 0.745), [(0.254, 0.289, 0.55), (0.289, 0.327, 1.0), (0.417, 0.586, 1.0),
                              (0.586, 0.745, 0.55)]),
    'IRF4': ((0.347, 0.655), [(0.365, 0.37, 1.0), (0.397, 0.4, 1.0), (0.414, 0.417, 0.6), (0.498, 0.503, 1.0),
                              (0.53, 0.532, 0.6), (0.558, 0.56, 0.6), (0.58, 0.582, 1.0), (0.59, 0.655, 0.55)]),
    'CD44': ((0.22, 0.995), [(0.22, 0.222, 1.0), (0.532, 0.534, 1.0), (0.562, 0.564, 1.0), (0.617, 0.619, 1.0),
                             (0.642, 0.644, 1.0), (0.698, 0.7, 1.0), (0.706, 0.708, 1.0), (0.735, 0.737, 1.0),
                             (0.739, 0.741, 1.0), (0.764, 0.766, 1.0), (0.773, 0.775, 1.0), (0.792, 0.794, 1.0),
                             (0.808, 0.81, 1.0), (0.819, 0.821, 1.0), (0.831, 0.833, 1.0), (0.885, 0.887, 1.0),
                             (0.903, 0.905, 1.0), (0.911, 0.92, 0.8), (0.969, 0.995, 0.55)]),
    'REL': ((0.005, 0.898), [(0.016, 0.018, 0.6), (0.063, 0.065, 1.0), (0.074, 0.078, 1.0), (0.272, 0.275, 1.0),
                             (0.327, 0.33, 1.0), (0.46, 0.462, 1.0), (0.777, 0.78, 1.0), (0.803, 0.81, 1.0),
                             (0.84, 0.849, 1.0), (0.874, 0.898, 0.8)]),
    'RELA': ((0.004, 0.679), [(0.004, 0.007, 1.0), (0.014, 0.046, 1.0), (0.06, 0.071, 1.0), (0.131, 0.134, 1.0),
                              (0.138, 0.141, 1.0), (0.144, 0.147, 1.0), (0.151, 0.154, 1.0), (0.158, 0.161, 1.0),
                              (0.166, 0.169, 1.0), (0.178, 0.181, 1.0), (0.186, 0.199, 0.55), (0.307, 0.338, 0.55),
                              (0.338, 0.362, 1.0), (0.391, 0.393, 1.0), (0.398, 0.4, 1.0), (0.493, 0.5, 1.0),
                              (0.51, 0.513, 1.0), (0.545, 0.548, 1.0), (0.565, 0.568, 1.0), (0.586, 0.588, 1.0),
                              (0.629, 0.633, 1.0), (0.636, 0.64, 1.0), (0.643, 0.647, 1.0), (0.675, 0.679, 0.7)]),
    'TCF4': ((0.183, 0.809), [(0.188, 0.19, 0.8), (0.2, 0.203, 0.8), (0.21, 0.212, 0.8), (0.22, 0.222, 0.8),
                              (0.233, 0.236, 0.8), (0.243, 0.245, 0.8), (0.278, 0.28, 0.8), (0.33, 0.332, 0.8),
                              (0.365, 0.367, 0.8), (0.435, 0.437, 0.8), (0.47, 0.472, 0.8), (0.505, 0.507, 0.8),
                              (0.557, 0.559, 0.8), (0.612, 0.614, 0.8), (0.643, 0.645, 0.8), (0.73, 0.735, 0.8),
                              (0.808, 0.81, 0.8)]),
    'ITPKB': ((0.09, 0.91), [(0.09, 0.111, 0.55), (0.12, 0.123, 1.0), (0.143, 0.146, 1.0), (0.163, 0.166, 1.0),
                             (0.207, 0.21, 1.0), (0.225, 0.228, 1.0), (0.425, 0.43, 0.8), (0.884, 0.902, 1.0)]),
    'PU.1': ((0.007, 0.735), [(0.007, 0.009, 1.0), (0.018, 0.02, 1.0), (0.022, 0.024, 1.0), (0.026, 0.028, 1.0),
                              (0.03, 0.032, 1.0), (0.04, 0.042, 1.0), (0.055, 0.057, 1.0), (0.092, 0.094, 1.0),
                              (0.1, 0.102, 1.0), (0.117, 0.119, 1.0), (0.123, 0.125, 1.0), (0.128, 0.13, 1.0),
                              (0.14, 0.142, 1.0), (0.164, 0.166, 1.0), (0.172, 0.174, 1.0), (0.18, 0.182, 1.0),
                              (0.195, 0.2, 1.0), (0.22, 0.222, 1.0), (0.267, 0.28, 0.55), (0.345, 0.347, 1.0),
                              (0.365, 0.367, 1.0), (0.735, 0.737, 1.0)]),
    'XBP1': ((0.284, 0.686), [(0.284, 0.325, 0.55), (0.325, 0.362, 1.0), (0.384, 0.392, 1.0), (0.454, 0.459, 1.0),
                              (0.586, 0.59, 1.0), (0.671, 0.686, 1.0)]),
}

PEAKS = {'MYC': MYC, 'BCL6': BCL6, 'BATF3': BATF3, 'EGR1': EGR1, 'IRF4': IRF4, 'CD44': CD44,
         'REL': REL, 'RELA': RELA, 'TCF4': TCF4, 'ITPKB': ITPKB, 'PU.1': PU1, 'XBP1': XBP1}

# panel placement in pixels: (left, right) and (top, bottom)
LEFT_X = (134, 729)
RIGHT_X = (802.5, 1391)
ROWS_LEFT = [(13.3, 272.7), (281, 540.7), (550, 804.3), (815.7, 1085), (1095.6, 1354.7), (1366.7, 1625.5)]
ROWS_RIGHT = [(13.3, 271.7), (281, 540.7), (550, 807), (817.3, 1085), (1097.7, 1354.3), (1364.3, 1626)]
# vertical centre (px) of first cell-line label in each left panel, and spacing between labels
LABEL_FIRST = [43.4, 302.8, 567.4, 844.5, 1126.6, 1386.1]
LABEL_STEP = 32.1

PEAK_COLOR = '#0a0aa6'
BASE_COLOR = '#5664d8'
FRAME_COLOR = '#f2391e'
BG_COLOR = '#f7f7f7'
FONT = ['Liberation Sans', 'DejaVu Sans']

fig = plt.figure(figsize=(W / DPI, H / DPI), dpi=DPI)
fig.patch.set_facecolor('white')


def draw_panel(gene, xr, yr, label_first=None):
    x0, x1 = xr
    t, b = yr
    ax = fig.add_axes([x0 / W, 1 - b / H, (x1 - x0) / W, (b - t) / H])
    sp = (b - t - 25.5) / 7.0
    total = (b - t) / sp
    ax.set_xlim(0, 1)
    ax.set_ylim(total, 0)
    ax.set_facecolor(BG_COLOR)
    ax.set_xticks([])
    ax.set_yticks([])
    for s in ax.spines.values():
        s.set_color(FRAME_COLOR)
        s.set_linewidth(1.6)
        s.set_zorder(10)
    tracks = PEAKS[gene]
    for i, peaks in enumerate(tracks):
        base = i + 1
        ax.axhline(base, color=BASE_COLOR, lw=1.1, zorder=2)
        xs = [p[0] for p in peaks]
        hs = [-p[1] for p in peaks]
        ws = [p[2] if len(p) > 2 else 0.003 for p in peaks]
        ax.bar(xs, hs, width=ws, bottom=base, color=PEAK_COLOR, linewidth=0, zorder=3)
    # separator (double line)
    ax.axhline(7 + 10.5 / sp, color='#8a8a8a', lw=1.0, zorder=2)
    ax.axhline(7 + 12.6 / sp, color='#8a8a8a', lw=1.0, zorder=2)
    # gene model
    yc = total - 6.0 / sp
    span, exons = GENE_MODELS[gene]
    ax.plot(span, [yc, yc], color='#3447cc', lw=0.9, zorder=3)
    ticks = np.arange(span[0] + 0.015, span[1], 0.035)
    ax.plot(ticks, [yc] * len(ticks), ls='none', marker='|', ms=3, mew=0.7, color='#3447cc', zorder=3)
    ex_h = 8.0 / sp
    for (a, e, k) in exons:
        hh = ex_h * k
        ax.bar(a, hh, width=e - a, bottom=yc - hh / 2, align='edge', color=PEAK_COLOR, linewidth=0, zorder=4)
    if gene == 'TCF4':
        for xt in (0.46, 0.49):
            ax.text(xt, yc + 3.2 / sp, 'TCF4', fontsize=2.5, color='#555555', ha='center', va='center',
                    family=FONT)
    # cell-line labels (left column only)
    if label_first is not None:
        trans = mtransforms.blended_transform_factory(ax.transAxes, ax.transData)
        for i, name in enumerate(CELL_LINES):
            yb = (label_first + i * LABEL_STEP + 9.6 - t) / sp
            ax.text(-0.0175, yb, name, transform=trans, ha='right', va='baseline',
                    fontsize=19.2, family=FONT, color='black', clip_on=False)
        cx = (753 - x0) / (x1 - x0)
    else:
        cx = (1415 - x0) / (x1 - x0)
    ax.text(cx, 0.5, gene, transform=ax.transAxes, rotation=270, ha='center', va='center',
            fontsize=32.8, family=FONT, color='black', clip_on=False)


for g, yr, lf in zip(GENES_LEFT, ROWS_LEFT, LABEL_FIRST):
    draw_panel(g, LEFT_X, yr, lf)
for g, yr in zip(GENES_RIGHT, ROWS_RIGHT):
    draw_panel(g, RIGHT_X, yr, None)

fig.savefig('out.png', dpi=DPI, facecolor='white')
